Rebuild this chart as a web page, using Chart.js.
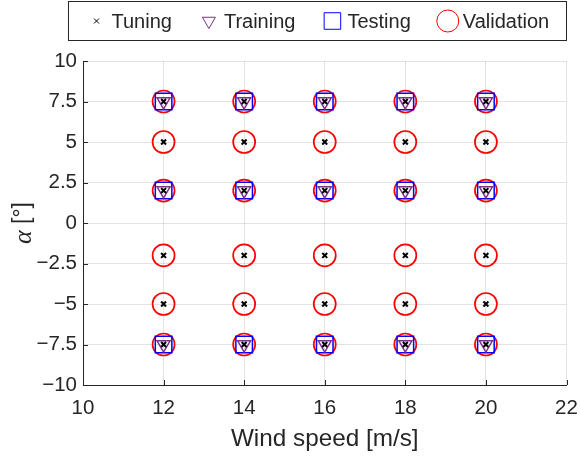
<!DOCTYPE html>
<html lang="en">
<head>
  <meta charset="UTF-8" />
  <title>Wind speed vs alpha</title>
  <script src="https://cdn.jsdelivr.net/npm/chart.js"></script>
  <style>
    body { margin: 0; background: #fff; }
    canvas { display: block; }
  </style>
</head>
<body>
  <canvas id="grafik" width="580" height="457"></canvas>

  <script>
    // data
    const windSpeeds = [12, 14, 16, 18, 20];
    const tuningAlpha = [-7.5, -5, -2, 2, 5, 7.5];
    const trainingAlpha = [-7.5, 2, 7.5];
    const testingAlpha = [-7.5, 2, 7.5];
    const validationAlpha = [-7.5, -5, -2, 2, 5, 7.5];
    const xTicks = [10, 12, 14, 16, 18, 20, 22];
    const yTicks = [-10, -7.5, -5, -2.5, 0, 2.5, 5, 7.5, 10];

    const textColor = "#262626";
    const sans = "'Liberation Sans', Arial, Helvetica, sans-serif";

    function grid(alphas) {
      const pts = [];
      windSpeeds.forEach(w => alphas.forEach(a => pts.push({ x: w, y: a })));
      return pts;
    }

    // legend box drawn by hand, inward ticks, y title with italic alpha
    const extras = {
      id: "extras",
      afterDraw(chart) {
        const ctx = chart.ctx;
        const xs = chart.scales.x, ys = chart.scales.y;
        ctx.save();

        // inward ticks
        ctx.strokeStyle = "#262626";
        ctx.lineWidth = 1;
        ctx.beginPath();
        xTicks.forEach(v => {
          const px = Math.round(xs.getPixelForValue(v)) + 0.5;
          ctx.moveTo(px, ys.bottom);
          ctx.lineTo(px, ys.bottom - 5);
        });
        yTicks.forEach(v => {
          const py = Math.round(ys.getPixelForValue(v)) + 0.5;
          ctx.moveTo(xs.left, py);
          ctx.lineTo(xs.left + 5, py);
        });
        ctx.stroke();

        // y axis title
        ctx.translate(23, (ys.top + ys.bottom) / 2);
        ctx.rotate(-Math.PI / 2);
        ctx.fillStyle = textColor;
        ctx.textBaseline = "middle";
        const fa = "italic 26px 'Liberation Serif', 'DejaVu Serif', serif";
        const fb = "23px " + sans;
        ctx.font = fa;
        const wa = ctx.measureText("α").width;
        ctx.font = fb;
        const wb = ctx.measureText(" [°]").width;
        let x0 = -(wa + wb) / 2;
        ctx.font = fa;
        ctx.fillText("α", x0, 1);
        ctx.font = fb;
        ctx.fillText(" [°]", x0 + wa, 0);
        ctx.restore();

        // legend
        ctx.save();
        ctx.strokeStyle = "#262626";
        ctx.lineWidth = 1;
        ctx.fillStyle = "#fff";
        ctx.fillRect(68, 1, 499, 39);
        ctx.strokeRect(68.5, 1.5, 498, 39);
        ctx.font = "20px " + sans;
        ctx.textBaseline = "middle";
        let mx = 96.5;
        chart.data.datasets.forEach(ds => {
          ctx.strokeStyle = ds.borderColor;
          ctx.fillStyle = "rgba(0,0,0,0)";
          Chart.helpers.drawPoint(ctx, {
            pointStyle: ds.pointStyle,
            rotation: ds.rotation || 0,
            radius: ds.pointRadius,
            borderWidth: ds.borderWidth
          }, mx, 21);
          ctx.fillStyle = textColor;
          const tx = mx + 15;
          ctx.fillText(ds.label, tx, 22);
          mx = tx + ctx.measureText(ds.label).width + 37;
        });
        ctx.restore();
      }
    };

    const minus = v => String(v).replace("-", "\u2212");

    new Chart(document.getElementById("grafik"), {
      type: "scatter",
      data: {
        datasets: [
          {
            label: "Tuning",
            data: grid(tuningAlpha),
            pointStyle: "crossRot",
            pointRadius: 3.5,
            borderWidth: 2,
            borderColor: "#000000",
            backgroundColor: "rgba(0,0,0,0)"
          },
          {
            label: "Training",
            data: grid(trainingAlpha),
            pointStyle: "triangle",
            rotation: 180,
            pointRadius: 7.5,
            borderWidth: 1.5,
            borderColor: "#7E2F8E",
            backgroundColor: "rgba(0,0,0,0)"
          },
          {
            label: "Testing",
            data: grid(testingAlpha),
            pointStyle: "rect",
            pointRadius: 11.7,
            borderWidth: 1.5,
            borderColor: "#0000FF",
            backgroundColor: "rgba(0,0,0,0)"
          },
          {
            label: "Validation",
            data: grid(validationAlpha),
            pointStyle: "circle",
            pointRadius: 11,
            borderWidth: 1.7,
            borderColor: "#FF0000",
            backgroundColor: "rgba(0,0,0,0)"
          }
        ]
      },
      options: {
        responsive: false,
        animation: false,
        layout: { padding: { top: 61, right: 13.5, left: 0, bottom: 0 } },
        plugins: {
          legend: { display: false },
          tooltip: { enabled: false }
        },
        elements: { point: { hoverRadius: 0 } },
        scales: {
          x: {
            type: "linear",
            min: 10,
            max: 22,
            afterBuildTicks: s => { s.ticks = xTicks.map(v => ({ value: v })); },
            afterFit: s => { s.height = 72; s.paddingLeft = 0; s.paddingRight = 0; },
            grid: { color: "rgba(38,38,38,0.13)", drawTicks: false },
            border: { color: "#262626", width: 1 },
            ticks: {
              padding: 11,
              color: textColor,
              font: { family: sans, size: 20.5 },
              callback: minus
            },
            title: {
              display: true,
              text: "Wind speed [m/s]",
              color: textColor,
              font: { family: sans, size: 24.3 },
              padding: { top: 0, bottom: 3 }
            }
          },
          y: {
            type: "linear",
            min: -10,
            max: 10,
            afterBuildTicks: s => { s.ticks = yTicks.map(v => ({ value: v })); },
            afterFit: s => { s.width = 83; s.paddingTop = 0; s.paddingBottom = 0; },
            grid: { color: "rgba(38,38,38,0.13)", drawTicks: false },
            border: { color: "#262626", width: 1 },
            ticks: {
              padding: 6,
              color: textColor,
              font: { family: sans, size: 20.5 },
              callback: minus
            }
          }
        }
      },
      plugins: [extras]
    });
  </script>
</body>
</html>
